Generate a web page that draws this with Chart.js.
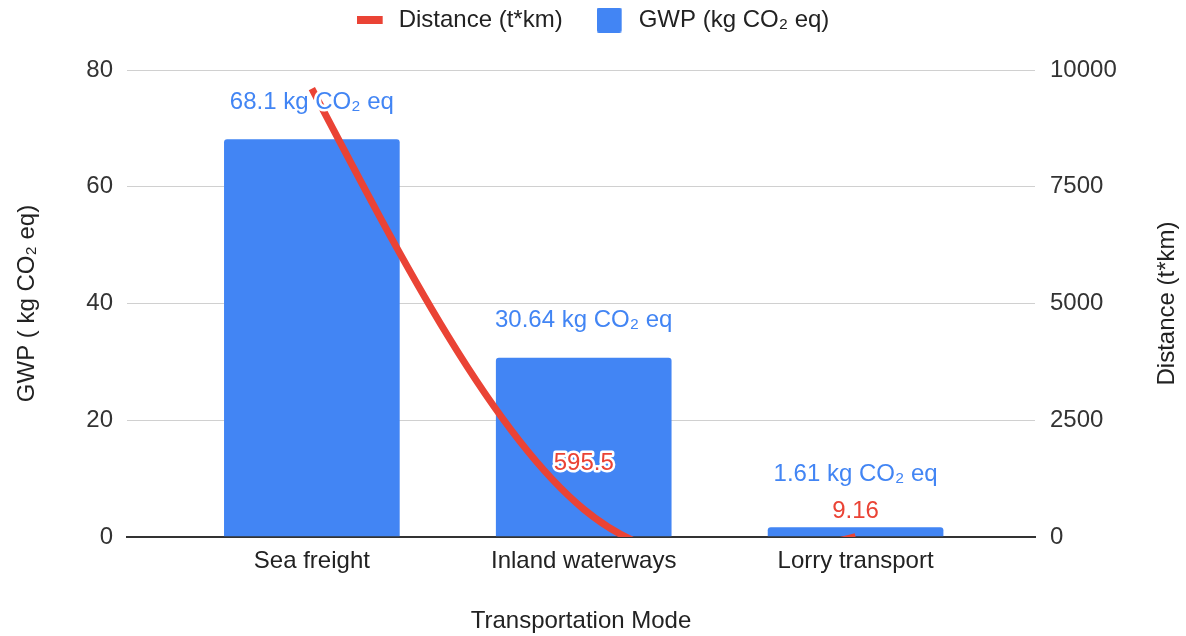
<!DOCTYPE html>
<html>
<head>
<meta charset="utf-8">
<title>GWP and distance by transportation mode</title>
<script src="https://cdn.jsdelivr.net/npm/chart.js@4.4.1/dist/chart.umd.min.js"></script>
<style>
  html, body { margin: 0; padding: 0; background: #ffffff; }
  canvas { display: block; }
</style>
</head>
<body>
<canvas id="chart" width="1186" height="636"></canvas>
<script>
// Data
const categories = ['Sea freight', 'Inland waterways', 'Lorry transport'];
const gwpValues = [68.1, 30.64, 1.61];          // kg CO2 eq
const distanceValues = [9600, 595.5, 9.16];     // t*km
const gwpTicks = [0, 20, 40, 60, 80];
const distanceTicks = [0, 2500, 5000, 7500, 10000];

const BLUE = '#4285F4';
const RED = '#EA4335';
const FONT = "'Liberation Sans', Arial, sans-serif";

Chart.defaults.font.family = FONT;
Chart.defaults.font.size = 24;
Chart.defaults.color = '#222';

// Legend swatches: a short thick line for the distance series, a rounded square for GWP
function makeSwatch(w, h, draw) {
  const c = document.createElement('canvas');
  c.width = w; c.height = h;
  draw(c.getContext('2d'));
  return c;
}
const lineSwatch = makeSwatch(30, 8, g => { g.fillStyle = RED; g.fillRect(0, 0, 26, 8); });
const barSwatch = makeSwatch(30, 25, g => {
  g.fillStyle = BLUE;
  g.beginPath();
  g.roundRect(0, 0, 25, 25, 2);
  g.fill();
});

// Extra room between the legend row and the plot area
const legendGap = {
  id: 'legendGap',
  beforeLayout(chart, args, opts) {
    const lg = chart.legend;
    if (!lg || lg._gapPatched) return;
    const fit = lg.fit;
    lg.fit = function () {
      fit.call(this);
      this.height += opts.extra;
    };
    lg._gapPatched = true;
  }
};

// Smooth the distance line with a natural cubic spline through its points
const naturalSpline = {
  id: 'naturalSpline',
  beforeDatasetDraw(chart, args) {
    const meta = args.meta;
    if (meta.type !== 'line') return;
    const line = meta.dataset;
    line.updateControlPoints(chart.chartArea, 'x');
    const pts = meta.data;
    const n = pts.length;
    if (n < 3) return;
    const x = pts.map(p => p.x);
    const y = pts.map(p => p.y);
    const h = [], m = [];
    for (let i = 0; i < n - 1; i++) {
      h[i] = x[i + 1] - x[i];
      m[i] = (y[i + 1] - y[i]) / h[i];
    }
    const a = [], b = [], c = [], d = [];
    for (let i = 1; i < n - 1; i++) {
      a.push(h[i - 1]);
      b.push(2 * (h[i - 1] + h[i]));
      c.push(h[i]);
      d.push(6 * (m[i] - m[i - 1]));
    }
    const k = b.length;
    for (let i = 1; i < k; i++) {
      const w = a[i] / b[i - 1];
      b[i] -= w * c[i - 1];
      d[i] -= w * d[i - 1];
    }
    const M = new Array(n).fill(0);
    for (let i = k - 1; i >= 0; i--) {
      M[i + 1] = (d[i] - (i < k - 1 ? c[i] * M[i + 2] : 0)) / b[i];
    }
    for (let i = 0; i < n - 1; i++) {
      const s0 = m[i] - h[i] * (2 * M[i] + M[i + 1]) / 6;
      const s1 = m[i] + h[i] * (M[i] + 2 * M[i + 1]) / 6;
      pts[i].cp2x = x[i] + h[i] / 3;
      pts[i].cp2y = y[i] + s0 * h[i] / 3;
      pts[i + 1].cp1x = x[i + 1] - h[i] / 3;
      pts[i + 1].cp1y = y[i + 1] - s1 * h[i] / 3;
    }
    line._path = undefined;
  }
};

// Value labels above the bars and next to the distance points
const valueLabels = {
  id: 'valueLabels',
  afterDatasetsDraw(chart, args, opts) {
    const ctx = chart.ctx;
    ctx.save();
    ctx.font = '24px ' + FONT;
    ctx.textAlign = 'center';
    ctx.textBaseline = 'middle';
    ctx.lineJoin = 'round';
    ctx.lineWidth = 5;
    ctx.strokeStyle = '#ffffff';

    const barMeta = chart.getDatasetMeta(1);
    barMeta.data.forEach((bar, i) => {
      const text = gwpValues[i] + ' kg CO₂ eq';
      const ty = bar.y - opts.barLift[i];
      ctx.strokeText(text, bar.x, ty);
      ctx.fillStyle = BLUE;
      ctx.fillText(text, bar.x, ty);
    });

    const lineMeta = chart.getDatasetMeta(0);
    lineMeta.data.forEach((pt, i) => {
      const lift = opts.lineLift[i];
      if (lift == null) return;
      const text = String(distanceValues[i]);
      const ty = pt.y - lift;
      ctx.strokeText(text, pt.x, ty);
      ctx.fillStyle = RED;
      ctx.fillText(text, pt.x, ty);
    });
    ctx.restore();
  }
};

// Right axis title, reading bottom-to-top like the left one
const rightTitle = {
  id: 'rightTitle',
  afterDraw(chart, args, opts) {
    const s = chart.scales.y1;
    const area = chart.chartArea;
    const ctx = chart.ctx;
    ctx.save();
    ctx.font = '24px ' + FONT;
    ctx.fillStyle = '#222';
    ctx.textAlign = 'center';
    ctx.textBaseline = 'middle';
    ctx.translate(s.right - 14.4 - opts.padding, (area.top + area.bottom) / 2);
    ctx.rotate(-Math.PI / 2);
    ctx.fillText(opts.text, 0, 0);
    ctx.restore();
  }
};

new Chart(document.getElementById('chart'), {
  type: 'bar',
  data: {
    datasets: [
      {
        type: 'line',
        label: 'Distance (t*km)',
        data: distanceValues.map((v, i) => ({ x: i, y: v })),
        yAxisID: 'y1',
        borderColor: RED,
        backgroundColor: RED,
        borderWidth: 7,
        pointRadius: 0,
        pointHoverRadius: 0,
        tension: 0.4,
        capBezierPoints: false,
        clip: 0,
        pointStyle: lineSwatch,
        order: 0
      },
      {
        type: 'bar',
        label: 'GWP (kg CO₂ eq)',
        data: gwpValues.map((v, i) => ({ x: i, y: v })),
        yAxisID: 'y',
        backgroundColor: BLUE,
        barThickness: 175,
        borderRadius: 3,
        pointStyle: barSwatch,
        order: 1
      }
    ]
  },
  options: {
    responsive: false,
    animation: false,
    devicePixelRatio: 1,
    layout: { padding: { top: -26, left: 0, right: 0, bottom: 0 } },
    plugins: {
      legend: {
        position: 'top',
        labels: {
          usePointStyle: true,
          pointStyleWidth: 30,
          boxHeight: 24,
          padding: 34,
          color: '#222',
          font: { size: 24 }
        }
      },
      legendGap: { extra: 28 },
      tooltip: { enabled: false },
      valueLabels: {
        barLift: [37, 38, 53],
        lineLift: [null, 46, 25]
      },
      rightTitle: { text: 'Distance (t*km)', padding: 4 }
    },
    scales: {
      x: {
        type: 'linear',
        position: 'bottom',
        min: -0.68,
        max: 2.66,
        offset: false,
        afterBuildTicks: s => { s.ticks = categories.map((_, i) => ({ value: i })); },
        ticks: {
          callback: v => categories[v],
          color: '#222',
          font: { size: 24 },
          padding: 10,
          autoSkip: false,
          maxRotation: 0
        },
        grid: { display: false, drawTicks: false },
        border: { display: true, color: '#333', width: 2 },
        title: {
          display: true,
          text: 'Transportation Mode',
          color: '#222',
          font: { size: 24 },
          padding: { top: 0, bottom: 0 }
        },
        afterFit: s => { s.height = 99; },
        z: 1
      },
      y: {
        type: 'linear',
        position: 'left',
        min: 0,
        max: 80,
        afterBuildTicks: s => { s.ticks = gwpTicks.map(v => ({ value: v })); },
        ticks: { color: '#333', font: { size: 24 }, padding: 14 },
        grid: {
          color: c => (c.tick && c.tick.value === 0 ? '#333' : '#d0d0d0'),
          lineWidth: c => (c.tick && c.tick.value === 0 ? 2 : 1),
          drawTicks: false
        },
        border: { display: false },
        title: {
          display: true,
          text: 'GWP ( kg CO₂ eq)',
          color: '#222',
          font: { size: 24 },
          padding: { top: 13, bottom: 0 }
        },
        afterFit: s => { s.width = 127; }
      },
      y1: {
        type: 'linear',
        position: 'right',
        min: 0,
        max: 10000,
        afterBuildTicks: s => { s.ticks = distanceTicks.map(v => ({ value: v })); },
        ticks: { color: '#333', font: { size: 24 }, padding: 15, callback: v => String(v) },
        grid: { display: false, drawTicks: false },
        border: { display: false },
        title: { display: false },
        afterFit: s => { s.width = 151; }
      }
    }
  },
  plugins: [legendGap, naturalSpline, valueLabels, rightTitle]
});
</script>
</body>
</html>
